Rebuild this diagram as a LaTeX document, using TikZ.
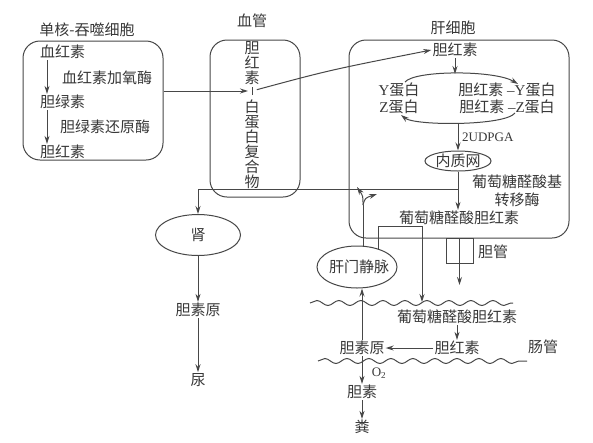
\documentclass[tikz,border=0pt]{standalone}
\usepackage{fontspec}
\setmainfont{Noto Sans CJK SC}
\newfontfamily\lat{Liberation Serif}
\usetikzlibrary{arrows.meta,shapes.geometric,decorations.pathmorphing}
\begin{document}
\begin{tikzpicture}[x=1pt,y=-1pt,
  lc/.style={draw=black!72, line width=1pt},
  arr/.style={lc, -{Stealth[length=8pt,width=5pt]}},
  txt/.style={font=\fontsize{15}{15}\selectfont, text=black!78, inner sep=1pt},
  box/.style={lc, rounded corners=17pt, inner sep=0pt},
  ell/.style={lc, ellipse, inner sep=0pt},
  wave/.style={lc, decorate, decoration={snake, segment length=22pt, amplitude=2.5pt}}
]
\fill[white] (0,0) rectangle (593,442);
\useasboundingbox (0,0) rectangle (593,442);

% containers
\node[box, minimum width=140pt, minimum height=119pt] (lbox) at (93,100.5) {};
\node[box, minimum width=90pt, minimum height=157pt] (vbox) at (255,118.5) {};
\node[box, minimum width=220pt, minimum height=198pt] (hep) at (459,139) {};

% titles
\node[txt] (t1) at (87,30) {单核-吞噬细胞};
\node[txt] (t2) at (252,21) {血管};
\node[txt] (t3) at (453,28) {肝细胞};

% left box
\node[txt, anchor=west] (hb) at (39,52) {血红素};
\node[txt, anchor=west] (e1) at (61,78) {血红素加氧酶};
\node[txt, anchor=west] (lv) at (39,102) {胆绿素};
\node[txt, anchor=west] (e2) at (59,127) {胆绿素还原酶};
\node[txt, anchor=west] (br1) at (39,152) {胆红素};
\draw[arr] ([xshift=8pt]hb.south west) -- ([xshift=8pt]lv.north west);
\draw[arr] ([xshift=8pt]lv.south west) -- ([xshift=8pt]br1.north west);

% blood vessel text
\node[txt, align=center] (bv1) at (252,63) {胆\\红\\素};
\node[txt, align=center] (bv2) at (252,144.5) {白\\蛋\\白\\复\\合\\物};
\coordinate (dash) at (252,91);
\draw[lc] ([yshift=-4pt]dash) -- ([yshift=4pt]dash);
\draw[arr, shorten >=4pt] (lbox.east |- dash) -- (dash);

% hepatocyte
\node[txt] (hcb) at (455,50) {胆红素};
\draw[arr, shorten <=5pt] (dash) .. controls (330,70) .. (hcb.west);
\coordinate (ltop) at (455,74);
\draw[arr] (hcb.south) -- (ltop);
\node[txt] (yp) at (399,90) {{\lat Y}蛋白};
\node[txt] (zp) at (399,107) {{\lat Z}蛋白};
\node[txt] (byp) at (507,90) {胆红素{\lat\ –Y}蛋白};
\node[txt] (bzp) at (507,107) {胆红素{\lat\ –Z}蛋白};
\coordinate (l1) at (405,82);
\coordinate (l2) at (518,84);
\coordinate (l3) at (515,113);
\coordinate (l4) at (401,115);
\draw[arr] (l1) .. controls (415,70) and (495,70) .. (l2);
\draw[arr] (l3) .. controls (505,126) and (415,126) .. (l4);
\coordinate (lbot) at (458,123);
\node[ell, minimum width=66pt, minimum height=20pt] (er) at (458,161) {};
\node[txt] (ert) at (er) {内质网};
\draw[arr] (lbot) -- (er.north);
\node[txt, anchor=west, font=\lat\fontsize{13}{13}\selectfont] (udp) at (461,137) {2UDPGA};
\node[txt] (gcb1) at (459,218) {葡萄糖醛酸胆红素};
\draw[arr] (er.south) -- (er.south |- gcb1.north);
\node[txt, align=center, font=\fontsize{15}{18}\selectfont] (ugt) at (517,191) {葡萄糖醛酸基\\转移酶};

% to kidney
\coordinate (brk) at (458,189);
\node[ell, minimum width=85pt, minimum height=41pt] (kid) at (198,235) {};
\node[txt] (kidt) at (kid) {肾};
\draw[arr] (brk) -| (kid.north);
\node[txt] (ysy1) at (198,310) {胆素原};
\node[txt] (niao) at (198,380) {尿};
\draw[arr] (kid.south) -- (ysy1.north);
\draw[arr] (ysy1.south) -- (niao.north);

% portal vein
\node[ell, minimum width=80pt, minimum height=42pt] (pv) at (357,267) {};
\node[txt] (pvt) at (359,267) {肝门静脉};
\coordinate (sp) at (363,205);
\draw[lc] (pv.north -| sp) -- (sp);
\coordinate (a1) at (357,187);
\coordinate (a2) at (377,194);
\draw[arr] (sp) .. controls (363,196) .. (a1);
\draw[arr] (sp) .. controls (365,198) .. (a2);
\coordinate (gturn) at (422,226);
\coordinate (gw) at (422,302);
\draw[arr] (pv.40) |- (gturn) -- (gw);

% bile duct
\node[lc, minimum width=27pt, minimum height=25pt, inner sep=0pt, anchor=north] (duct) at (459.5,238) {};
\coordinate (dw) at (459.5,285);
\draw[arr] (duct.north) -- (dw);
\node[txt] (dg) at (493,252) {胆管};

% intestine
\coordinate (w1s) at (310,303);
\coordinate (w1e) at (513,303);
\draw[wave] (w1s) -- (w1e);
\coordinate (w2s) at (318,361);
\coordinate (w2e) at (527,361);
\draw[wave] (w2s) -- (w2e);
\node[txt] (gcb2) at (457,317) {葡萄糖醛酸胆红素};
\node[txt] (ib) at (457,348) {胆红素};
\draw[arr] (gcb2.south) -- (ib.north);
\node[txt] (ysy2) at (362,348) {胆素原};
\draw[arr] (ib.west) -- (ysy2.east);
\node[txt] (cg) at (543,347) {肠管};
\draw[arr] (ysy2.north) -- (ysy2.north |- pv.south);
\node[txt] (bs) at (362,392) {胆素};
\node[txt] (fen) at (362,427) {粪};
\node[txt, font=\lat\fontsize{13}{13}\selectfont] (o2) at (379,373) {O\textsubscript{2}};
\draw[arr] (ysy2.south) -- (bs.north);
\draw[arr] (bs.south) -- (fen.north);
\end{tikzpicture}
\end{document}
